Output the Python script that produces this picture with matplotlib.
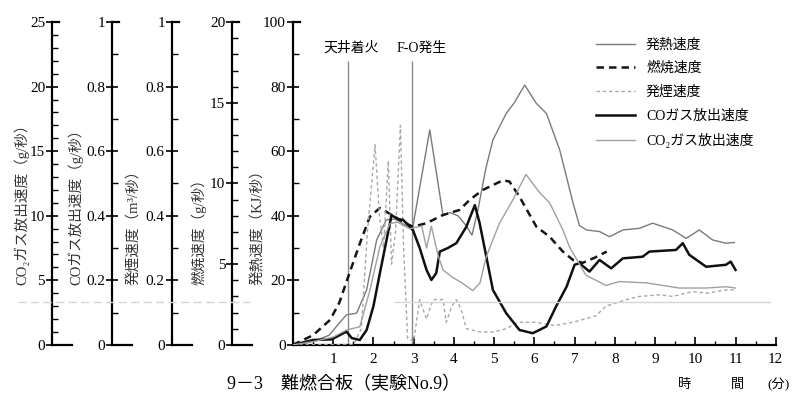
import matplotlib
matplotlib.use('Agg')
import matplotlib.pyplot as plt
from matplotlib.lines import Line2D
from matplotlib.ticker import MultipleLocator, FuncFormatter

plt.rcParams['font.family'] = ['Liberation Serif', 'Noto Sans CJK JP', 'DejaVu Sans']

# 発熱速度 (KJ/秒)
t_heat = [0, 0.3, 0.6, 0.9, 1.1, 1.33, 1.58, 1.83, 2.08, 2.32, 2.55, 2.8, 2.98, 3.4, 3.73,
          3.9, 4.1, 4.3, 4.45, 4.6, 4.8, 4.97, 5.3, 5.5, 5.76, 6.05, 6.3, 6.63, 6.8, 6.96,
          7.12, 7.29, 7.62, 7.87, 8.2, 8.61, 8.94, 9.44, 9.77, 10.1, 10.43, 10.76, 10.97]
heat = [0, 0.5, 1.5, 3, 6, 9.3, 9.8, 17, 32.5, 38.7, 39, 37, 36.6, 66.6, 40,
        41, 40, 37, 34, 42, 55, 63.5, 71.7, 75, 80.5, 74.8, 71.7, 60.4, 52, 44,
        37, 35.6, 35.1, 33.5, 35.6, 36.1, 37.7, 35.6, 33, 35.6, 32.5, 31.5, 31.7]

# 燃焼速度 (g/秒)
t_comb = [0, 0.5, 0.92, 1.15, 1.37, 1.65, 1.91, 2.16, 2.49, 2.75, 2.98, 3.32, 3.72, 4.14,
          4.4, 4.72, 5.22, 5.38, 5.63, 6.05, 6.38, 6.7, 6.96, 7.2, 7.5, 7.8]
comb = [0, 0.6, 1.54, 2.6, 4.2, 6.2, 7.94, 8.48, 8.0, 7.6, 7.32, 7.54, 8.04, 8.36,
        9.0, 9.6, 10.2, 10.12, 9.18, 7.32, 6.7, 5.8, 5.26, 5.08, 5.4, 5.78]

# 発煙速度 (m3/秒)
t_smoke = [0, 1.5, 1.7, 1.85, 2.04, 2.15, 2.25, 2.37, 2.45, 2.55, 2.67, 2.75, 2.85, 3.0,
           3.15, 3.32, 3.48, 3.73, 3.81, 3.95, 4.06, 4.18, 4.31, 4.64, 5.0, 5.3, 5.6, 6.0,
           6.5, 6.96, 7.53, 7.78, 8.28, 8.61, 9.11, 9.44, 9.93, 10.3, 10.76, 11.0]
smoke = [0, 0, 0.05, 0.35, 0.62, 0.40, 0.30, 0.57, 0.25, 0.35, 0.68, 0.30, 0.02, 0.01,
         0.14, 0.08, 0.14, 0.14, 0.07, 0.12, 0.14, 0.11, 0.05, 0.04, 0.04, 0.05, 0.07, 0.07,
         0.06, 0.07, 0.09, 0.12, 0.14, 0.15, 0.155, 0.15, 0.165, 0.16, 0.17, 0.17]

# COガス放出速度 (g/秒)
t_co = [0, 0.5, 0.96, 1.33, 1.46, 1.66, 1.83, 2.0, 2.16, 2.45, 2.6, 2.74, 2.98, 3.15, 3.32,
        3.44, 3.56, 3.65, 3.85, 4.06, 4.31, 4.52, 4.64, 4.97, 5.3, 5.63, 5.96, 6.3, 6.54,
        6.8, 7.0, 7.12, 7.37, 7.62, 7.91, 8.2, 8.69, 8.86, 9.52, 9.69, 9.85, 10.27, 10.76,
        10.88, 11.0]
co = [0, 0.015, 0.017, 0.041, 0.021, 0.015, 0.046, 0.12, 0.222, 0.402, 0.39, 0.387, 0.356,
      0.30, 0.232, 0.201, 0.222, 0.289, 0.30, 0.315, 0.366, 0.433, 0.377, 0.17, 0.098, 0.046,
      0.036, 0.057, 0.119, 0.18, 0.248, 0.253, 0.227, 0.263, 0.237, 0.268, 0.273, 0.289,
      0.294, 0.315, 0.279, 0.242, 0.248, 0.258, 0.232]

# CO2ガス放出速度 (g/秒)
t_co2 = [0, 0.5, 1.0, 1.33, 1.66, 1.91, 2.16, 2.41, 2.6, 2.9, 3.2, 3.32, 3.44, 3.6, 3.73,
         3.98, 4.2, 4.47, 4.65, 4.8, 5.13, 5.46, 5.79, 6.13, 6.38, 6.71, 6.87, 7.28, 7.78,
         8.11, 8.78, 9.6, 10.27, 10.76, 11.0]
co2 = [0, 0.25, 0.6, 1.15, 1.4, 4.2, 7.6, 9.4, 9.5, 9.0, 9.2, 7.5, 9.2, 7.0, 5.8,
       5.2, 4.8, 4.2, 4.8, 6.8, 9.4, 11.2, 13.2, 11.8, 11.0, 8.9, 7.6, 5.4, 4.6,
       4.9, 4.8, 4.4, 4.4, 4.5, 4.4]

event_t = [1.37, 2.95]
event_labels = ['天井着火', 'F-O発生']

fig = plt.figure(figsize=(7.94, 3.95), dpi=100)
ax = fig.add_axes([0.369, 0.127, 0.608, 0.817])


def fmt_frac(v, pos):
    if abs(v) < 1e-9:
        return '0'
    if abs(v - 1) < 1e-9:
        return '1'
    return f'{v:.1f}'


def style_axis(a, top, major, minor, offset, formatter=None):
    a.set_ylim(0, top)
    a.yaxis.set_major_locator(MultipleLocator(major))
    a.yaxis.set_minor_locator(MultipleLocator(minor))
    if formatter:
        a.yaxis.set_major_formatter(FuncFormatter(formatter))
    for s in ['top', 'right', 'bottom']:
        a.spines[s].set_visible(False)
    a.spines['left'].set_visible(True)
    a.spines['left'].set_position(('axes', offset))
    a.spines['left'].set_linewidth(1.6)
    a.yaxis.set_ticks_position('left')
    a.tick_params(axis='y', which='major', direction='inout', length=8, width=1.2,
                  labelsize=11, pad=1)
    a.tick_params(axis='y', which='minor', direction='in', length=4, width=1.0)


# main axis: 発熱速度
style_axis(ax, 100, 20, 10, 0.0)
ax.spines['bottom'].set_visible(True)
ax.spines['bottom'].set_linewidth(1.6)
ax.set_xlim(0, 12)
ax.set_xticks(range(1, 13))
ax.xaxis.set_minor_locator(MultipleLocator(0.5))
ax.tick_params(axis='x', which='major', direction='in', length=6, width=1.2, labelsize=11, pad=6)
ax.tick_params(axis='x', which='minor', direction='in', length=3, width=1.0)

ax_comb = ax.twinx()
style_axis(ax_comb, 20, 5, 1, -0.126)
ax_smoke = ax.twinx()
style_axis(ax_smoke, 1, 0.2, 0.1, -0.251, fmt_frac)
ax_co = ax.twinx()
style_axis(ax_co, 1, 0.2, 0.1, -0.375, fmt_frac)
ax_co2 = ax.twinx()
style_axis(ax_co2, 25, 5, 1, -0.499)

l_heat, = ax.plot(t_heat, heat, color='#7a7a7a', lw=1.0)
l_co2, = ax_co2.plot(t_co2, co2, color='#a0a0a0', lw=1.0)
l_smoke, = ax_smoke.plot(t_smoke, smoke, color='#a8a8a8', lw=1.0, ls=(0, (2.5, 2)))
l_comb, = ax_comb.plot(t_comb, comb, color='#151515', lw=1.8, ls=(0, (3, 2)))
l_co, = ax_co.plot(t_co, co, color='#101010', lw=1.8)

# 天井着火 / F-O発生
ax.vlines(event_t, 0, 88, color='#8a8a8a', lw=1.0)
for t, lab, dx in zip(event_t, event_labels, [0.07, 0.25]):
    ax.text(t + dx, 92, lab, ha='center', va='center', fontsize=10)

# axis labels
ylabels = ['CO₂ガス放出速度（g/秒）', 'COガス放出速度（g/秒）', '発煙速度（m³/秒）',
           '燃焼速度（g/秒）', '発熱速度（KJ/秒）']
label_x = [22, 76, 134, 199, 258]
for lab, px in zip(ylabels, label_x):
    fig.text(px / 794, 1 - 285 / 395, lab, rotation=90, ha='center', va='bottom',
             fontsize=10.5, color='#333333')

# short stubs at the ends of the left scales
spine_px = [52, 112, 172, 232, 293]
for px in spine_px:
    x0 = px / 794
    if px != 293:
        fig.add_artist(Line2D([x0, x0 + 20 / 794], [0.127, 0.127], color='k', lw=1.6,
                              transform=fig.transFigure))
    fig.add_artist(Line2D([x0, x0 + 7 / 794], [0.944, 0.944], color='k', lw=1.6,
                          transform=fig.transFigure))

# faint fold line of the scan
fig.add_artist(Line2D([18 / 794, 250 / 794], [0.235, 0.235], color='#d5d5d5', lw=1.0,
                      ls=(0, (6, 3)), transform=fig.transFigure))
fig.add_artist(Line2D([395 / 794, 770 / 794], [0.235, 0.235], color='#d5d5d5', lw=1.0,
                      transform=fig.transFigure))

fig.legend([l_heat, l_comb, l_smoke, l_co, l_co2],
           ['発熱速度', '燃焼速度', '発煙速度', 'COガス放出速度', 'CO₂ガス放出速度'],
           loc='upper left', bbox_to_anchor=(0.735, 0.935), frameon=False, fontsize=10,
           handlelength=2.8, labelspacing=0.75, handletextpad=0.8)

for txt, px in [('時', 685), ('間', 737), ('(分)', 779)]:
    fig.text(px / 794, 1 - 385 / 395, txt, ha='center', va='center', fontsize=9.5)

fig.text(227 / 794, 2 / 395, '9－3　難燃合板（実験No.9）', ha='left', va='bottom',
         fontsize=13)

fig.savefig('out.png', dpi=100)
